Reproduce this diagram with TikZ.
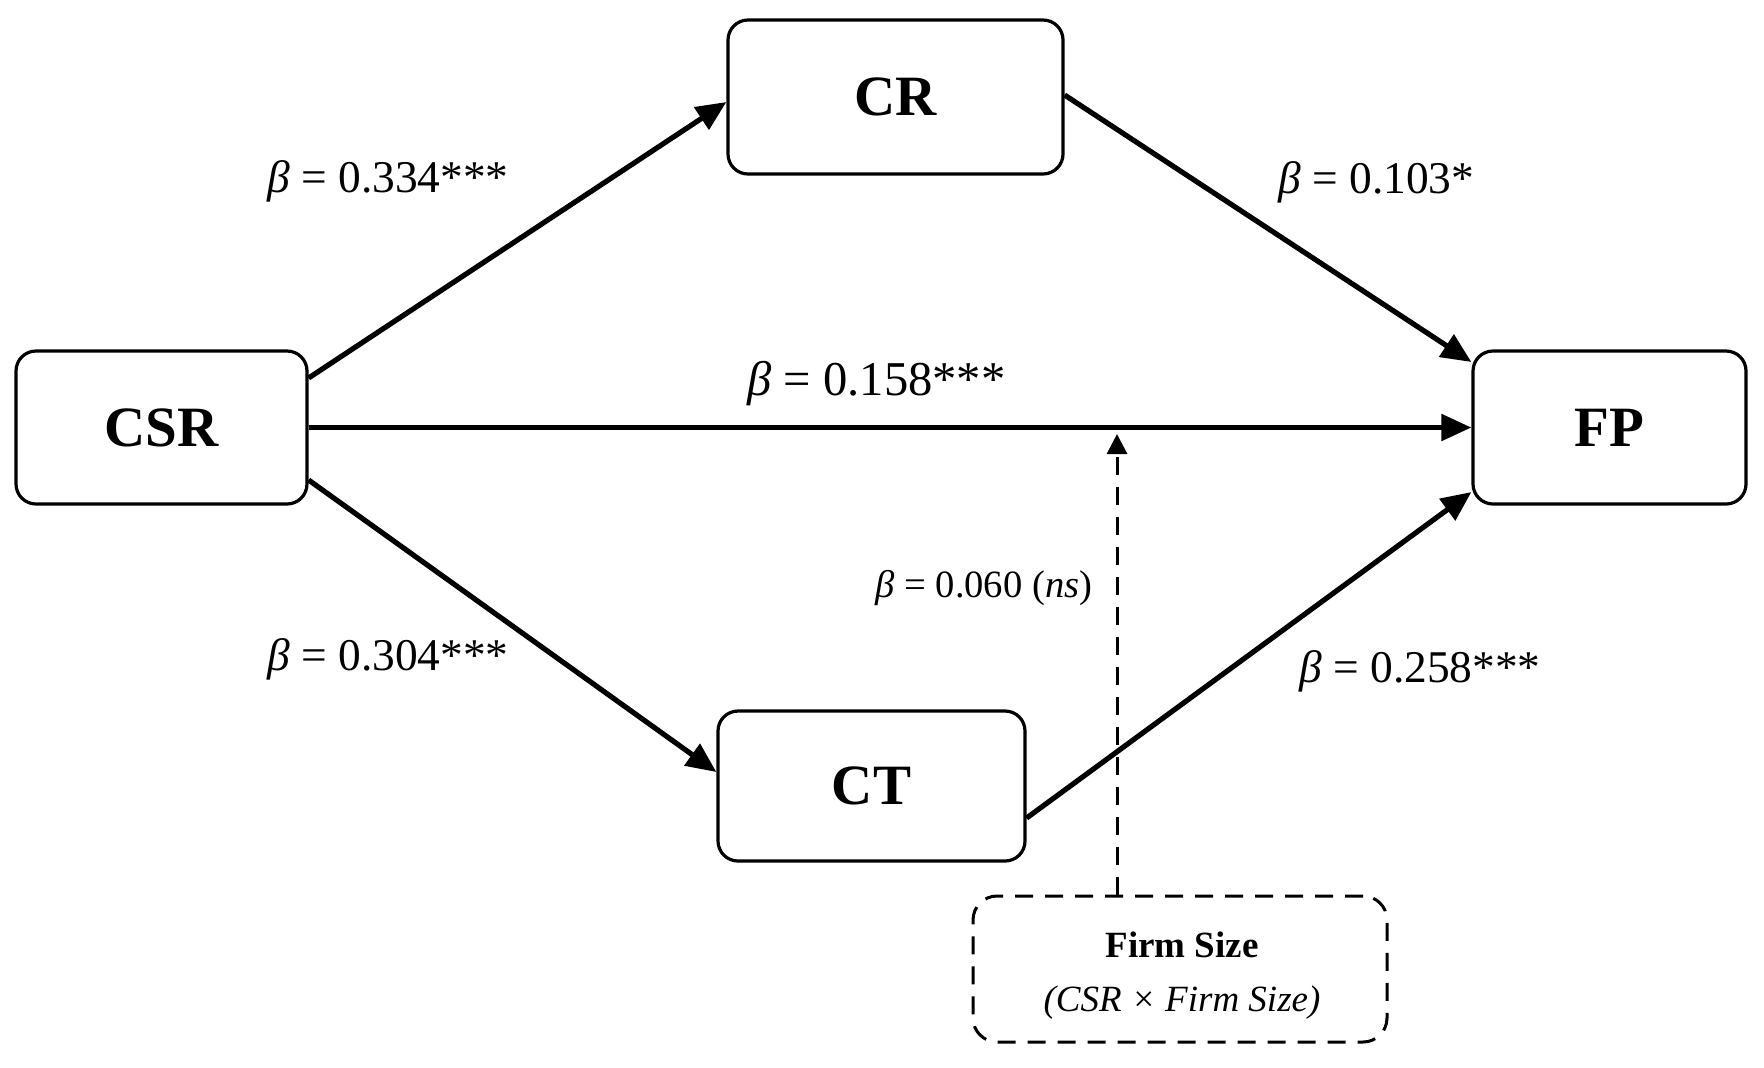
\documentclass[tikz,border=0pt]{standalone}
\usepackage{fontspec}
\setmainfont{Liberation Serif}
\usetikzlibrary{arrows.meta,calc}
\begin{document}
\begin{tikzpicture}[x=0.5pt,y=-0.5pt,
  box/.style={draw, line width=1.6pt, rounded corners=10pt, inner sep=0pt, fill=white,
    font=\fontsize{28.5}{32}\selectfont\bfseries},
  lab/.style={anchor=base west, inner sep=0pt, font=\fontsize{22.7}{26}\selectfont},
  arr/.style={line width=2.6pt, -{Triangle[length=15pt,width=13pt]}},
  darr/.style={line width=1.5pt, dash pattern=on 9pt off 6pt, -{Triangle[length=10pt,width=10pt]}},
  dbox/.style={draw, line width=1.5pt, dash pattern=on 9pt off 6pt, rounded corners=12pt, inner sep=0pt},
  dtext/.style={inner sep=0pt, align=center, font=\fontsize{18.5}{22}\selectfont}]
\useasboundingbox (0,0) rectangle (1764,1067);
\fill[white] (0,0) rectangle (1764,1067);

\node[box, minimum width=145.5pt, minimum height=76.5pt] (csr) at (161.5,427.5) {CSR};
\node[box, minimum width=167.5pt, minimum height=77pt] (cr) at (895.5,97) {CR};
\node[box, minimum width=136.5pt, minimum height=76.5pt] (fp) at (1609.5,427.5) {FP};
\node[box, minimum width=153.5pt, minimum height=75pt] (ct) at (871.5,786) {CT};
\node[dbox, minimum width=207pt, minimum height=73pt] (fs) at (1180,969) {};
\node[dtext] (fst) at (1182,976) {\textbf{Firm Size}\\[5pt]\textit{(CSR × Firm Size)}};

\coordinate (mod) at (1117,434);

\draw[arr] ($(csr.east)+(0,-49.5)$) -- ($(cr.west)+(0,5)$);
\draw[arr] ($(cr.east)+(0,-2)$) -- ($(fp.west)+(0,-65.5)$);
\draw[arr] (csr.east) -- (fp.west);
\draw[arr] ($(csr.east)+(0,52.5)$) -- ($(ct.west)+(0,-14)$);
\draw[arr] ($(ct.east)+(0,32)$) -- ($(fp.west)+(0,64.5)$);
\draw[darr] (fs.north -| mod) -- (mod);

\node[lab] (l1) at (267,192) {\textit{β} = 0.334***};
\node[lab] (l2) at (1278,193) {\textit{β} = 0.103*};
\node[lab, font=\fontsize{24.3}{27}\selectfont] (l3) at (747,395) {\textit{β} = 0.158***};
\node[lab, font=\fontsize{19.3}{22}\selectfont] (l4) at (875,597) {\textit{β} = 0.060 (\textit{ns})};
\node[lab] (l5) at (267,670) {\textit{β} = 0.304***};
\node[lab] (l6) at (1299,682) {\textit{β} = 0.258***};
\end{tikzpicture}
\end{document}
